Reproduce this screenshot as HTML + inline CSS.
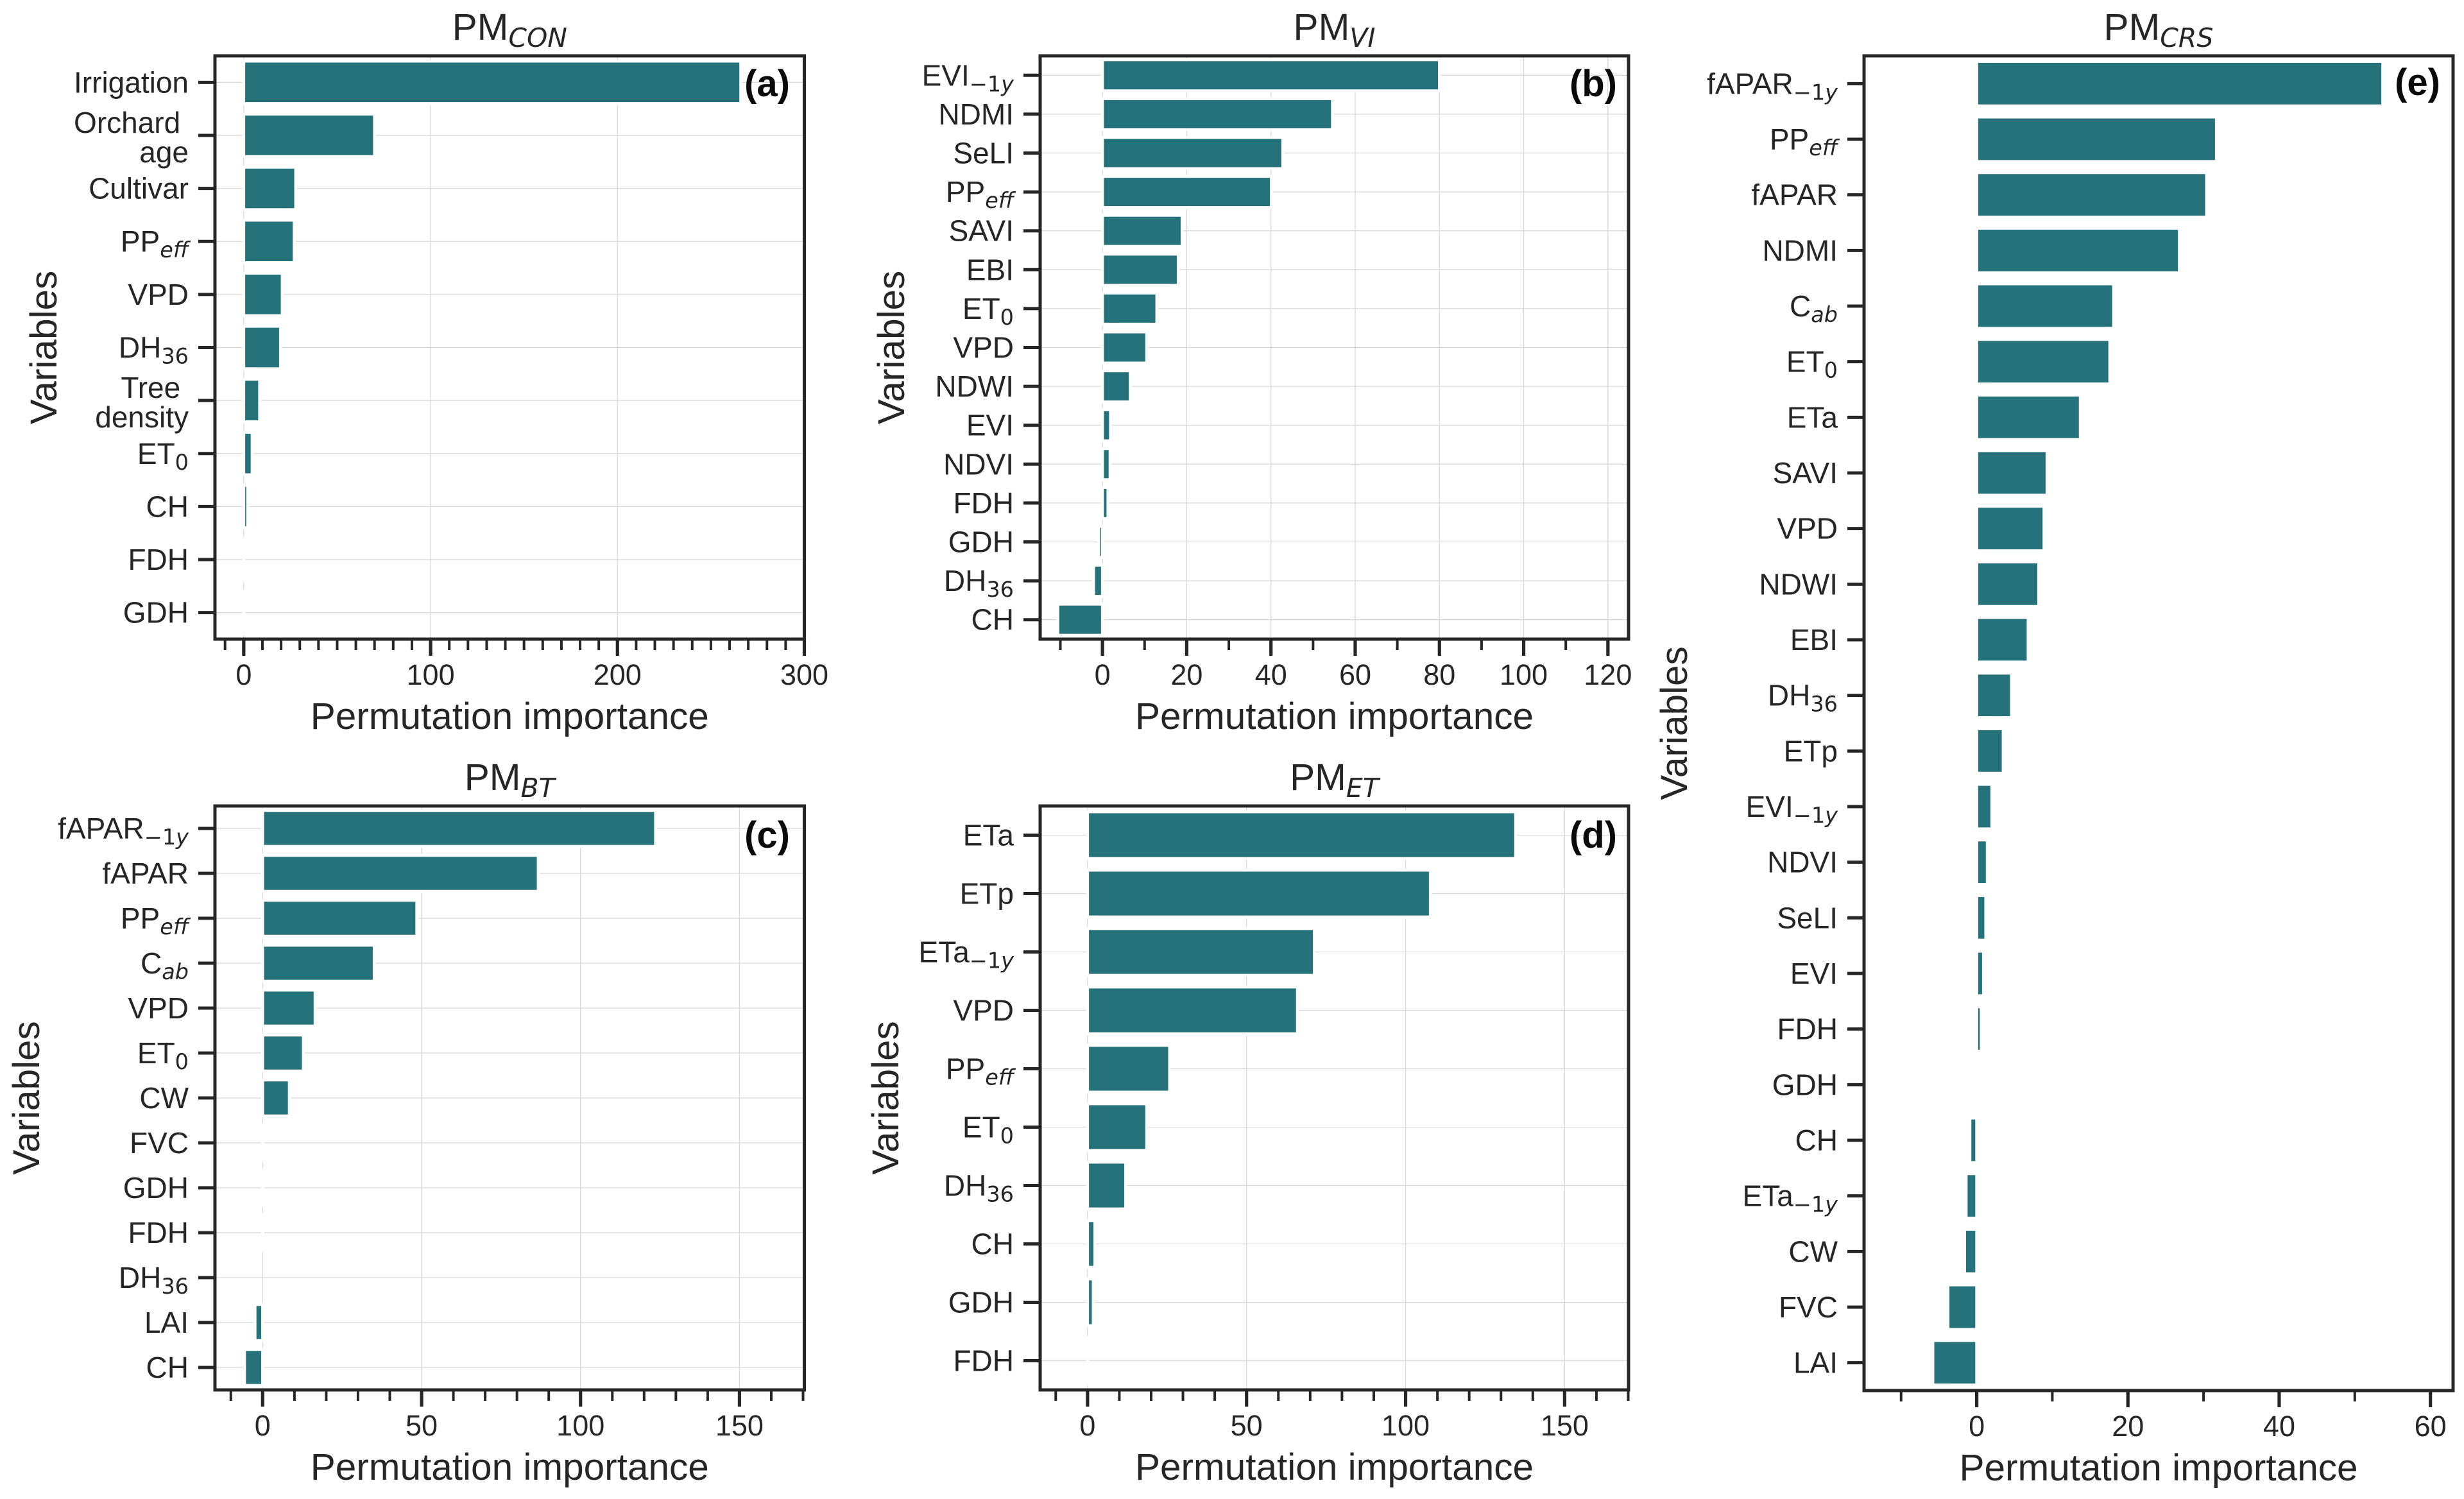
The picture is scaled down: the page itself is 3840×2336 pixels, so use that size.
<!DOCTYPE html>
<html lang="en">
<head>
<meta charset="utf-8">
<title>Permutation importance by model</title>
<style>
  html, body { margin: 0; padding: 0; background: #ffffff; }
  body { width: 3840px; height: 2336px; overflow: hidden; }
  svg { display: block; }
  text { font-family: "Liberation Sans", Arial, sans-serif; fill: #262626; white-space: pre; }
  .sub { font-family: "DejaVu Sans", sans-serif; }
</style>
</head>
<body>
<svg id="figure" xmlns="http://www.w3.org/2000/svg" width="3840" height="2336" viewBox="0 0 3840 2336"></svg>
<script>
// ---- Data ----
const categoriesA = ["Irrigation", "Orchard \nage", "Cultivar", "PP_eff", "VPD", "DH_36", "Tree \ndensity", "ET_0", "CH", "FDH", "GDH"];
const valuesA = [266, 70, 27.8, 27, 20.6, 19.7, 8.5, 4.5, 2.1, 0.2, 0.1];
const majorTicksA = [0, 100, 200, 300];

const categoriesB = ["EVI_-1y", "NDMI", "SeLI", "PP_eff", "SAVI", "EBI", "ET_0", "VPD", "NDWI", "EVI", "NDVI", "FDH", "GDH", "DH_36", "CH"];
const valuesB = [80, 54.6, 42.8, 40.1, 18.9, 18, 12.9, 10.5, 6.6, 1.9, 1.8, 1.3, -0.9, -2.1, -10.6];
const majorTicksB = [0, 20, 40, 60, 80, 100, 120];

const categoriesC = ["fAPAR_-1y", "fAPAR", "PP_eff", "C_ab", "VPD", "ET_0", "CW", "FVC", "GDH", "FDH", "DH_36", "LAI", "CH"];
const valuesC = [123.6, 86.7, 48.5, 35.1, 16.5, 12.8, 8.4, 0.1, 0.1, 0.1, 0, -2.4, -5.7];
const majorTicksC = [0, 50, 100, 150];

const categoriesD = ["ETa", "ETp", "ETa_-1y", "VPD", "PP_eff", "ET_0", "DH_36", "CH", "GDH", "FDH"];
const valuesD = [134.6, 107.8, 71.3, 66, 25.8, 18.6, 12, 2.3, 1.8, 0.1];
const majorTicksD = [0, 50, 100, 150];

const categoriesE = ["fAPAR_-1y", "PP_eff", "fAPAR", "NDMI", "C_ab", "ET_0", "ETa", "SAVI", "VPD", "NDWI", "EBI", "DH_36", "ETp", "EVI_-1y", "NDVI", "SeLI", "EVI", "FDH", "GDH", "CH", "ETa_-1y", "CW", "FVC", "LAI"];
const valuesE = [53.7, 31.7, 30.4, 26.8, 18.1, 17.6, 13.7, 9.3, 8.9, 8.2, 6.8, 4.6, 3.5, 2, 1.4, 1.2, 0.9, 0.6, 0, -0.9, -1.4, -1.6, -3.8, -5.8];
const majorTicksE = [0, 20, 40, 60];

// ---- Panel layout ----
const panels = [
  { title: "PM", titleSub: "CON", letter: "(a)", cats: categoriesA, vals: valuesA, majors: majorTicksA,
    left: 335, right: 1253.5, top: 87, bottom: 996, xMin: -15.4, xMax: 300, grid: true, yLabelX: 67, letterX: 1231, letterY: 150 },
  { title: "PM", titleSub: "VI", letter: "(b)", cats: categoriesB, vals: valuesB, majors: majorTicksB,
    left: 1621, right: 2538, top: 87, bottom: 996, xMin: -14.8, xMax: 124.9, grid: true, yLabelX: 1388, letterX: 2520, letterY: 150 },
  { title: "PM", titleSub: "BT", letter: "(c)", cats: categoriesC, vals: valuesC, majors: majorTicksC,
    left: 335, right: 1253.5, top: 1256, bottom: 2166, xMin: -15, xMax: 170.4, grid: true, yLabelX: 40, letterX: 1231, letterY: 1321 },
  { title: "PM", titleSub: "ET", letter: "(d)", cats: categoriesD, vals: valuesD, majors: majorTicksD,
    left: 1621, right: 2538, top: 1256, bottom: 2166, xMin: -14.9, xMax: 170.1, grid: true, yLabelX: 1379, letterX: 2520, letterY: 1321 },
  { title: "PM", titleSub: "CRS", letter: "(e)", cats: categoriesE, vals: valuesE, majors: majorTicksE,
    left: 2905, right: 3823, top: 87, bottom: 2167, xMin: -14.9, xMax: 63, grid: false, yLabelX: 2608, letterX: 3803, letterY: 148 }
];

const NS = "http://www.w3.org/2000/svg";
const figure = document.getElementById("figure");
const BAR_COLOR = "#26727a";
const AXIS_COLOR = "#262626";
const GRID_COLOR = "#d8d8d8";

function make(tag, attrs, parent) {
  const el = document.createElementNS(NS, tag);
  for (const k in attrs) el.setAttribute(k, attrs[k]);
  parent.appendChild(el);
  return el;
}

function addSub(textEl, str, size, shift, forceItalic) {
  // upright digits / minus, italic letters, as in mathtext
  const parts = forceItalic ? [str] : (str.match(/[-0-9]+|[a-zA-Z]+/g) || []);
  let first = true;
  parts.forEach(function (p) {
    const italic = forceItalic || /[a-zA-Z]/.test(p);
    const t = make("tspan", { "class": "sub", "font-size": size, "font-style": italic ? "italic" : "normal" }, textEl);
    if (first) t.setAttribute("dy", shift);
    t.textContent = p.replace("-", "\u2212");
    first = false;
  });
}

function writeLabel(textEl, label) {
  const bits = label.split("_");
  const m = make("tspan", {}, textEl);
  m.textContent = bits[0];
  if (bits[1]) addSub(textEl, bits[1], 33.5, 9, false);
}

panels.forEach(function (p) {
  const g = make("g", {}, figure);
  
  

  const xScale = function (v) { return p.left + (v - p.xMin) / (p.xMax - p.xMin) * (p.right - p.left); };
  const band = (p.bottom - p.top) / p.cats.length;
  const yScale = function (i) { return p.top + (i + 0.5) * band; };

  // Grid
  if (p.grid) {
    p.majors.forEach(function (v) {
      const gl = make("line", { x1: xScale(v), x2: xScale(v), y1: p.top, y2: p.bottom, stroke: GRID_COLOR, "stroke-width": 1.3 }, g);
      
      
    });
    p.cats.forEach(function (c, i) {
      const gl = make("line", { x1: p.left, x2: p.right, y1: yScale(i), y2: yScale(i), stroke: GRID_COLOR, "stroke-width": 1.3 }, g);
      
      
    });
  }

  // Bars
  p.vals.forEach(function (v, i) {
    const x0 = xScale(0), x1 = xScale(v);
    const bar = make("rect", {
      x: Math.min(x0, x1), y: yScale(i) - band * 0.4,
      width: Math.abs(x1 - x0), height: band * 0.8,
      fill: BAR_COLOR, stroke: "#ffffff", "stroke-width": 4.5
    }, g);
    
    
  });

  // Y ticks and labels
  p.cats.forEach(function (c, i) {
    const y = yScale(i);
    const tick = make("line", { x1: p.left - 26, x2: p.left, y1: y, y2: y, stroke: AXIS_COLOR, "stroke-width": 5 }, g);
    
    
    const lines = c.split("\n");
    lines.forEach(function (ln, j) {
      const base = lines.length === 1 ? y + 16 : y - 4 + j * 46;
      const t = make("text", { x: p.left - 41, y: base, "text-anchor": "end", "font-size": 46 }, g);
      
      
      writeLabel(t, ln);
    });
  });

  // X ticks: minor every 10 units, major from the array
  for (let v = -10; v <= p.xMax; v += 10) {
    if (p.majors.indexOf(v) !== -1) continue;
    const tick = make("line", { x1: xScale(v), x2: xScale(v), y1: p.bottom, y2: p.bottom + 17, stroke: AXIS_COLOR, "stroke-width": 4 }, g);
    
    
  }
  p.majors.forEach(function (v) {
    const tick = make("line", { x1: xScale(v), x2: xScale(v), y1: p.bottom, y2: p.bottom + 26, stroke: AXIS_COLOR, "stroke-width": 5.2 }, g);
    
    
    const t = make("text", { x: xScale(v), y: p.bottom + 71, "text-anchor": "middle", "font-size": 45 }, g);
    
    
    t.textContent = String(v);
  });

  // Frame
  const frame = make("rect", { x: p.left, y: p.top, width: p.right - p.left, height: p.bottom - p.top, fill: "none", stroke: AXIS_COLOR, "stroke-width": 5 }, g);
  
  

  // Title
  const cx = (p.left + p.right) / 2;
  const title = make("text", { x: cx, y: p.top - 25, "text-anchor": "middle", "font-size": 58.5 }, g);
  
  
  const tm = make("tspan", {}, title);
  tm.textContent = p.title;
  addSub(title, p.titleSub, 41, 11, true);

  // Panel letter
  const letter = make("text", { x: p.letterX, y: p.letterY, "text-anchor": "end", "font-size": 58, "font-weight": "bold", style: "fill:#0a0a0a" }, g);
  
  
  letter.textContent = p.letter;

  // Axis titles
  const xl = make("text", { x: cx, y: p.bottom + 140, "text-anchor": "middle", "font-size": 58.5 }, g);
  
  
  xl.textContent = "Permutation importance";

  const yMid = (p.top + p.bottom) / 2;
  const yl = make("text", { x: 0, y: 0, "text-anchor": "middle", "font-size": 58.5, transform: "translate(" + (p.yLabelX + 21) + "," + yMid + ") rotate(-90)" }, g);
  
  
  yl.textContent = "Variables";
});
</script>
</body>
</html>
